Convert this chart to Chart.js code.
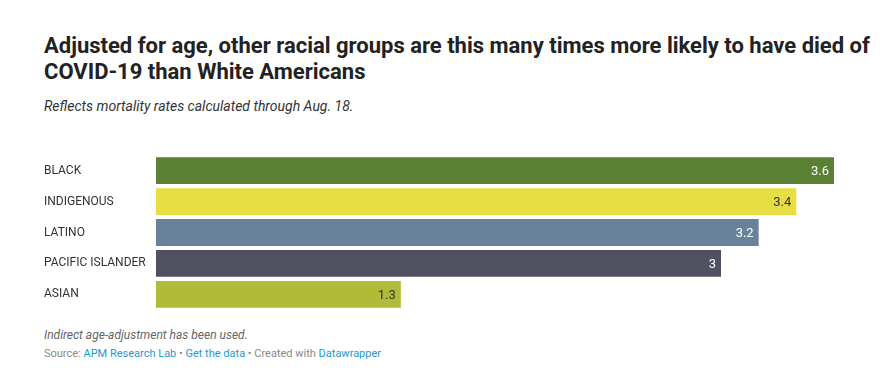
<!DOCTYPE html>
<html>
<head>
<meta charset="utf-8">
<script src="https://cdn.jsdelivr.net/npm/chart.js@4"></script>
<style>
  body { margin: 0; background: #fff; font-family: Roboto, sans-serif; width: 895px; height: 391px; position: relative; overflow: hidden; }
  .title { position: absolute; left: 44px; top: 33px; font-size: 22px; font-weight: 700; line-height: 26px; color: #222; white-space: nowrap; }
  .subtitle { position: absolute; left: 44px; top: 98px; font-size: 14px; font-style: italic; color: #333; }
  .note { position: absolute; left: 44px; top: 328px; font-size: 12px; font-style: italic; color: #666; }
  .source { position: absolute; left: 44px; top: 347px; font-size: 11px; color: #888; }
  .source a { color: #1d9ad0; text-decoration: none; }
  #wrap { position: absolute; left: 44px; top: 148px; width: 800px; height: 169px; }
</style>
</head>
<body>
<div class="title">Adjusted for age, other racial groups are this many times more likely to have died of<br>COVID-19 than White Americans</div>
<div class="subtitle">Reflects mortality rates calculated through Aug. 18.</div>
<div id="wrap"><canvas id="chart"></canvas></div>
<div class="note">Indirect age-adjustment has been used.</div>
<div class="source">Source: <a>APM Research Lab</a> • <a>Get the data</a> • Created with <a>Datawrapper</a></div>
<script>
const groups = ['BLACK', 'INDIGENOUS', 'LATINO', 'PACIFIC ISLANDER', 'ASIAN'];
const ratios = [3.6, 3.4, 3.2, 3, 1.3];
const barColors = ['#5a8034', '#e6de42', '#68829c', '#4f5060', '#b0bc38'];
const labelColors = ['#fff', '#333', '#fff', '#fff', '#333'];

// value labels drawn inside the bar end
const valueLabels = {
    id: 'valueLabels',
    afterDatasetsDraw(chart) {
        const ctx = chart.ctx;
        const meta = chart.getDatasetMeta(0);
        ctx.save();
        ctx.font = '13px Roboto';
        ctx.textAlign = 'right';
        ctx.textBaseline = 'middle';
        meta.data.forEach((bar, i) => {
            ctx.fillStyle = labelColors[i];
            ctx.fillText(String(ratios[i]), bar.x - 5, bar.y + 1);
        });
        ctx.restore();
    }
};

new Chart(document.getElementById('chart'), {
    type: 'bar',
    data: {
        labels: groups,
        datasets: [{
            data: ratios,
            backgroundColor: barColors,
            categoryPercentage: 1,
            barPercentage: 0.87
        }]
    },
    options: {
        indexAxis: 'y',
        responsive: true,
        maintainAspectRatio: false,
        animation: false,
        layout: { padding: { right: 10 } },
        plugins: { legend: { display: false }, tooltip: { enabled: false } },
        scales: {
            x: { display: false, min: 0, max: 3.6 },
            y: {
                grid: { display: false },
                border: { display: false },
                ticks: { crossAlign: 'far', color: '#333', font: { family: 'Roboto', size: 12 }, padding: 0 },
                afterFit(scale) { scale.width = 112; }
            }
        }
    },
    plugins: [valueLabels]
});
</script>
</body>
</html>
